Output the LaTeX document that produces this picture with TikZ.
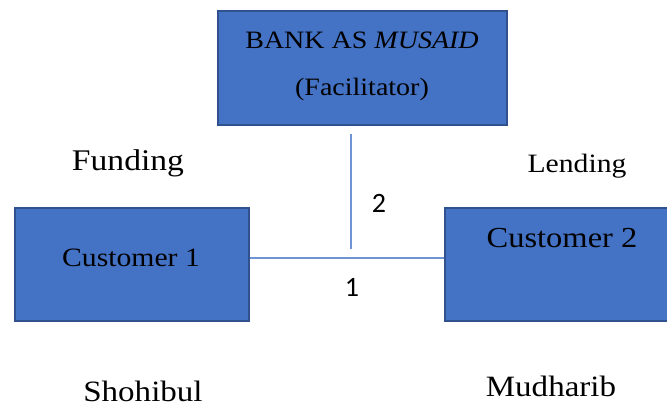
\documentclass[tikz,border=0pt]{standalone}
\usepackage{fontspec}
\setmainfont{Liberation Serif}[FakeStretch=1.12]
\newfontfamily\numfont{Carlito}
\definecolor{boxfill}{HTML}{4472C4}
\definecolor{boxline}{HTML}{2F528F}
\definecolor{linkline}{HTML}{6F94D4}
\begin{document}
\begin{tikzpicture}[x=1pt,y=-1pt,
  bx/.style={draw=boxline,line width=2pt,fill=boxfill},
  lbl/.style={font=\fontsize{#1}{#1}\selectfont,inner sep=0pt},
  lbl/.default=25,
  num/.style={font=\numfont\fontsize{28}{30}\selectfont,inner sep=0pt},
  link/.style={draw=linkline,line width=1.2pt}]
\useasboundingbox (0,0) rectangle (667,406);
\draw[bx] (218,11) rectangle (507,125);
\node[lbl] (bank) at (362,40) {BANK AS \textit{MUSAID}};
\node[lbl] (fac) at (362,89) {(Facilitator)};
\draw[bx] (15,208) rectangle (249,321);
\node[lbl=26.5] (c1) at (131,258) {Customer 1};
\draw[bx] (445,208) rectangle (668,321);
\node[lbl=29] (c2) at (562,238) {Customer 2};
\coordinate (vtop) at (351,134);
\coordinate (vbot) at (351,249);
\coordinate (hl) at (250,258);
\coordinate (hr) at (444,258);
\draw[link] (vtop) -- (vbot);
\draw[link] (hl) -- (hr);
\node[num] (n2) at (379,203) {2};
\node[num] (n1) at (352,287) {1};
\node[lbl=30] (fund) at (128,163) {Funding};
\node[lbl=26.5] (lend) at (577,166) {Lending};
\node[lbl=29.5] (shoh) at (143,391) {Shohibul};
\node[lbl=29.5] (mudh) at (551,386) {Mudharib};
\end{tikzpicture}
\end{document}
